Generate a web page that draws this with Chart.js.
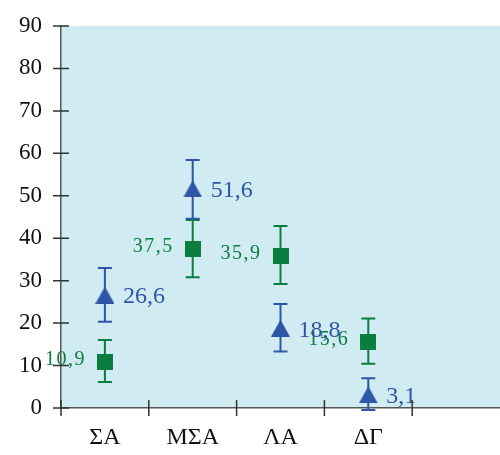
<!DOCTYPE html>
<html>
<head>
<meta charset="utf-8">
<script src="https://cdn.jsdelivr.net/npm/chart.js@4/dist/chart.umd.min.js"></script>
<style>
  html, body { margin: 0; padding: 0; background: #fff; overflow: hidden; }
  #wrap { width: 500px; height: 455px; position: relative; }
  canvas { display: block; }
</style>
</head>
<body>
<div id="wrap"><canvas id="c"></canvas></div>
<script>
// ---- data ----
var CATS = ["ΣΑ", "ΜΣΑ", "ΛΑ", "ΔΓ", ""];
var Y_MIN = 0, Y_MAX = 90, Y_STEP = 10;

var GREEN = [10.9, 37.5, 35.9, 15.6];
var GREEN_LO = [6.1, 30.8, 29.2, 10.4];
var GREEN_HI = [16.0, 44.3, 42.9, 21.1];

var BLUE = [26.6, 51.6, 18.8, 3.1];
var BLUE_LO = [20.3, 44.6, 13.3, -0.5];
var BLUE_HI = [33.0, 58.4, 24.5, 7.0];

var C_GREEN = "#0b7d3e";
var C_BLUE = "#2f55a6";
var C_BG = "#d0ebf2";
var SERIF = "'Liberation Serif', 'Times New Roman', Times, serif";

function fmt(v) { return v.toFixed(1).replace(".", ","); }

// marker shapes, centred on their bounding box
function triangleMark(color) {
  var cv = document.createElement("canvas");
  cv.width = 19; cv.height = 17;
  var g = cv.getContext("2d");
  g.fillStyle = color;
  g.beginPath(); g.moveTo(0, 17); g.lineTo(9.5, 0); g.lineTo(19, 17); g.closePath(); g.fill();
  return cv;
}
function squareMark(color) {
  var cv = document.createElement("canvas");
  cv.width = 16; cv.height = 16;
  var g = cv.getContext("2d");
  g.fillStyle = color; g.fillRect(0, 0, 16, 16);
  return cv;
}

var ERR = [
  { color: C_GREEN, lo: GREEN_LO, hi: GREEN_HI },
  { color: C_BLUE, lo: BLUE_LO, hi: BLUE_HI }
];

var extras = {
  id: "extras",
  beforeDraw: function (chart) {
    var a = chart.chartArea, ctx = chart.ctx;
    ctx.save();
    ctx.fillStyle = C_BG;
    ctx.fillRect(a.left, a.top, a.right - a.left, a.bottom - a.top);
    ctx.restore();
  },
  beforeDatasetsDraw: function (chart) {
    var ctx = chart.ctx, xs = chart.scales.x, ys = chart.scales.y;
    ctx.save();
    ctx.lineWidth = 2;
    ERR.forEach(function (e) {
      ctx.strokeStyle = e.color;
      e.lo.forEach(function (lo, i) {
        var x = xs.getPixelForValue(i), y1 = ys.getPixelForValue(lo), y2 = ys.getPixelForValue(e.hi[i]);
        ctx.beginPath();
        ctx.moveTo(x, y1); ctx.lineTo(x, y2);
        ctx.moveTo(x - 7, y1); ctx.lineTo(x + 7, y1);
        ctx.moveTo(x - 7, y2); ctx.lineTo(x + 7, y2);
        ctx.stroke();
      });
    });
    ctx.restore();
  },
  afterDatasetsDraw: function (chart) {
    var ctx = chart.ctx, xs = chart.scales.x, ys = chart.scales.y;
    ctx.save();
    ctx.textBaseline = "middle";
    ctx.font = "20px " + SERIF;
    ctx.fillStyle = C_GREEN;
    ctx.textAlign = "right";
    ctx.letterSpacing = "1.5px";
    GREEN.forEach(function (v, i) {
      ctx.fillText(fmt(v), xs.getPixelForValue(i) - 19, ys.getPixelForValue(v) - 2);
    });
    ctx.letterSpacing = "0px";
    ctx.font = "24px " + SERIF;
    ctx.fillStyle = C_BLUE;
    ctx.textAlign = "left";
    BLUE.forEach(function (v, i) {
      ctx.fillText(fmt(v), xs.getPixelForValue(i) + 18, ys.getPixelForValue(v) + 2);
    });
    ctx.restore();
  },
  afterDraw: function (chart) {
    // tick marks that cross the axis lines
    var ctx = chart.ctx, xs = chart.scales.x, ys = chart.scales.y, a = chart.chartArea;
    ctx.save();
    ctx.strokeStyle = "#333";
    ctx.lineWidth = 1.5;
    ctx.beginPath();
    ys.ticks.forEach(function (t) {
      var y = ys.getPixelForValue(t.value);
      ctx.moveTo(a.left - 8, y); ctx.lineTo(a.left + 8, y);
    });
    var half = (xs.getPixelForValue(1) - xs.getPixelForValue(0)) / 2;
    for (var i = 0; i < CATS.length; i++) {
      var x = xs.getPixelForValue(i) - half;
      ctx.moveTo(x, a.bottom - 8); ctx.lineTo(x, a.bottom + 8);
    }
    ctx.stroke();
    ctx.restore();
  }
};

function draw() {
  new Chart(document.getElementById("c"), {
    type: "line",
    data: {
      labels: CATS,
      datasets: [
        { data: GREEN, showLine: false, pointStyle: squareMark(C_GREEN), pointRadius: 8, clip: false },
        { data: BLUE, showLine: false, pointStyle: triangleMark(C_BLUE), pointRadius: 9, clip: false }
      ]
    },
    options: {
      responsive: true, maintainAspectRatio: false, animation: false,
      layout: { autoPadding: false, padding: { top: 26, left: 0, right: 0, bottom: 0 } },
      plugins: { legend: { display: false }, tooltip: { enabled: false } },
      scales: {
        x: {
          type: "category", offset: true,
          grid: { display: false, drawTicks: false, tickLength: 0 },
          border: { display: true, color: "#555", width: 1.5 },
          ticks: { color: "#111", padding: 15, font: { family: SERIF, size: 24 }, autoSkip: false, maxRotation: 0 },
          afterFit: function (s) { s.height = 47; }
        },
        y: {
          min: Y_MIN, max: Y_MAX,
          grid: { display: false, drawTicks: false, tickLength: 0 },
          border: { display: true, color: "#555", width: 1.5 },
          ticks: { stepSize: Y_STEP, color: "#111", padding: 19, font: { family: SERIF, size: 23 } },
          afterFit: function (s) { s.width = 61; s.paddingTop = 0; s.paddingBottom = 0; }
        }
      }
    },
    plugins: [extras]
  });
}

if (document.fonts && document.fonts.load) {
  document.fonts.load("21px 'Liberation Serif'").then(draw, draw);
} else {
  draw();
}
</script>
</body>
</html>
